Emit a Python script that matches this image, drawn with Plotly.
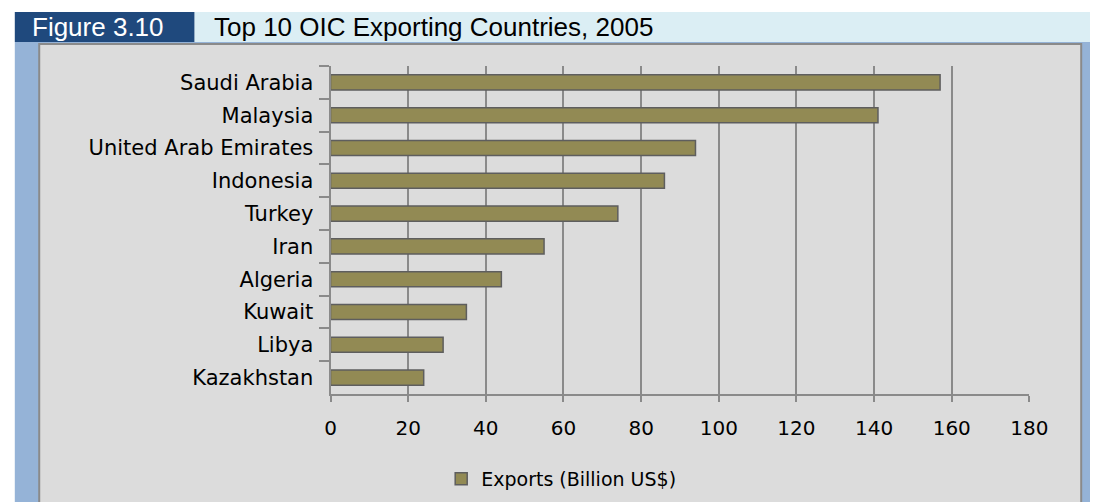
import plotly.graph_objects as go

# Top 10 OIC exporting countries, 2005 (billion US$)
countries = [
    "Saudi Arabia", "Malaysia", "United Arab Emirates", "Indonesia", "Turkey",
    "Iran", "Algeria", "Kuwait", "Libya", "Kazakhstan",
]
exports = [157, 141, 94, 86, 74, 55, 44, 35, 29, 24]
x_ticks = [0, 20, 40, 60, 80, 100, 120, 140, 160, 180]

series_name = "Exports (Billion US$)"
fig_label = "Figure 3.10"
fig_title = "Top 10 OIC Exporting Countries, 2005"

W, H = 1109, 502


def px_x(p):
    return p / W


def px_y(p):
    return 1 - p / H


GRID = "#8a8a8a"
BAR = "#928a54"
BAR_EDGE = "#5e5e5e"
PANEL = "#dcdcdc"
FRAME = "#95b3d7"
HEAD_DARK = "#1f497d"
HEAD_LIGHT = "#dbeef4"
TXT_FONT = "DejaVu Sans"

fig = go.Figure(
    go.Bar(
        x=exports,
        y=countries,
        orientation="h",
        name=series_name,
        width=0.46,
        marker=dict(color=BAR, line=dict(color=BAR_EDGE, width=1.5)),
        showlegend=True,
    )
)

shapes = [
    # outer frame
    dict(type="rect", xref="paper", yref="paper", x0=px_x(9), x1=px_x(1109),
         y0=px_y(42), y1=px_y(502), fillcolor=FRAME, line=dict(width=0), layer="below"),
    # header boxes
    dict(type="rect", xref="paper", yref="paper", x0=px_x(9), x1=px_x(193),
         y0=px_y(12), y1=px_y(42), fillcolor=HEAD_DARK, line=dict(width=0), layer="below"),
    dict(type="rect", xref="paper", yref="paper", x0=px_x(193), x1=px_x(1109),
         y0=px_y(12), y1=px_y(42), fillcolor=HEAD_LIGHT, line=dict(width=0), layer="below"),
    # chart panel
    dict(type="rect", xref="paper", yref="paper", x0=px_x(34), x1=px_x(1100),
         y0=px_y(44), y1=px_y(510), fillcolor=PANEL, line=dict(color="#8a8a8a", width=2),
         layer="below"),
]

annotations = [
    dict(text=fig_label, xref="paper", yref="paper", x=px_x(25), y=px_y(27),
         xanchor="left", yanchor="middle", showarrow=False,
         font=dict(family="Liberation Sans", size=26, color="white")),
    dict(text=fig_title, xref="paper", yref="paper", x=px_x(211), y=px_y(27),
         xanchor="left", yanchor="middle", showarrow=False,
         font=dict(family="Liberation Sans", size=26, color="black")),
]

fig.update_layout(
    width=W,
    height=H,
    margin=dict(l=0, r=0, t=0, b=0),
    paper_bgcolor="white",
    plot_bgcolor="rgba(0,0,0,0)",
    shapes=shapes,
    annotations=annotations,
    xaxis=dict(
        domain=[px_x(332), px_x(1047)],
        range=[0, 180],
        tickvals=x_ticks,
        ticktext=[str(v) for v in x_ticks],
        showgrid=True,
        gridcolor=GRID,
        gridwidth=1.8,
        zeroline=False,
        showline=True,
        linecolor=GRID,
        linewidth=2,
        ticks="outside",
        ticklen=6,
        tickcolor=GRID,
        tickwidth=1.5,
        ticklabelstandoff=9,
        tickfont=dict(family=TXT_FONT, size=20, color="black"),
        fixedrange=True,
    ),
    yaxis=dict(
        domain=[px_y(394), px_y(66)],
        type="category",
        categoryorder="array",
        categoryarray=countries,
        autorange="reversed",
        showgrid=False,
        zeroline=False,
        showline=True,
        linecolor=GRID,
        linewidth=2,
        ticks="outside",
        tickson="boundaries",
        ticklen=10,
        tickcolor=GRID,
        tickwidth=1.5,
        ticklabelstandoff=11,
        tickfont=dict(family=TXT_FONT, size=21, color="black"),
        fixedrange=True,
    ),
    legend=dict(
        orientation="h",
        x=px_x(568),
        y=px_y(479),
        xanchor="center",
        yanchor="middle",
        bgcolor="rgba(0,0,0,0)",
        font=dict(family=TXT_FONT, size=19, color="black"),
    ),
)

fig.write_html("out.html")
